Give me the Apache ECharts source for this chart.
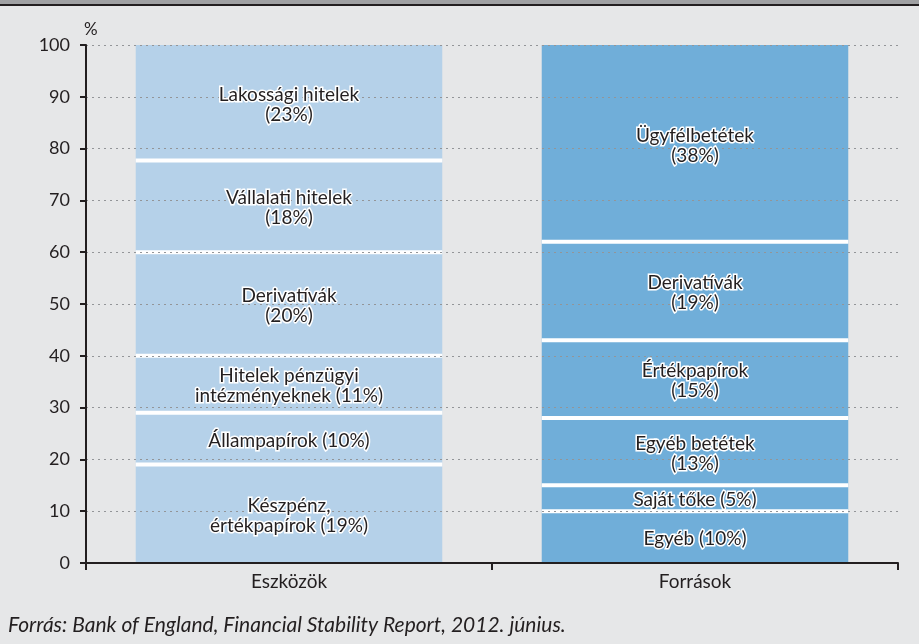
<!DOCTYPE html>
<html>
<head>
<meta charset="utf-8">
<script src="https://cdn.jsdelivr.net/npm/echarts@6/dist/echarts.min.js"></script>
<style>
  html, body { margin: 0; padding: 0; background: #e6e7e8; }
  #chart { width: 919px; height: 644px; }
</style>
</head>
<body>
<div id="chart"></div>
<script>
// adatok (alulról felfelé)
var categories = ['Eszközök', 'Források'];
var assetValues = [19, 10, 11, 20, 17.7, 22.3];
var assetLabels = ['Készpénz,\nértékpapírok (19%)', 'Állampapírok (10%)', 'Hitelek pénzügyi\nintézményeknek (11%)',
    'Derivatívák\n(20%)', 'Vállalati hitelek\n(18%)', 'Lakossági hitelek\n(23%)'];
var liabilityValues = [10, 5, 13, 15, 19, 38];
var liabilityLabels = ['Egyéb (10%)', 'Saját tőke (5%)', 'Egyéb betétek\n(13%)',
    'Értékpapírok\n(15%)', 'Derivatívák\n(19%)', 'Ügyfélbetétek\n(38%)'];
var yMin = 0, yMax = 100, yStep = 10;

var colors = ['#b5d1e9', '#70aed9'];
var font = 'Lato, "Noto Sans", sans-serif';
var textColor = '#231f20';

var myChart = echarts.init(document.getElementById('chart'));

// egy sorozat szintenként, mindkét oszlopban
var stacks = [assetValues, liabilityValues];
var labelSets = [assetLabels, liabilityLabels];
var series = [];
for (var i = 0; i < assetValues.length; i++) {
    series.push({
        type: 'bar',
        stack: 'total',
        barWidth: '75.5%',
        z: 1,
        silent: true,
        data: [
            { value: assetValues[i], itemStyle: { color: colors[0] } },
            { value: liabilityValues[i], itemStyle: { color: colors[1] } }
        ]
    });
}

// határvonalak és feliratok helye
var separators = [];
var labelItems = [];
stacks.forEach(function (vals, c) {
    var sum = 0;
    vals.forEach(function (v, k) {
        labelItems.push({ value: [c, sum + v / 2], text: labelSets[c][k] });
        sum += v;
        if (k < vals.length - 1) separators.push([c, sum]);
    });
});

series.push({
    type: 'custom',
    z: 3,
    silent: true,
    data: separators,
    renderItem: function (params, api) {
        var p = api.coord([api.value(0), api.value(1)]);
        var w = api.size([1, 0])[0] * 0.755;
        return {
            type: 'rect',
            shape: { x: p[0] - w / 2, y: p[1] - 2, width: w, height: 4 },
            style: { fill: '#ffffff' }
        };
    }
});

series.push({
    type: 'custom',
    z: 10,
    silent: true,
    data: labelItems.map(function (d) { return d.value; }),
    renderItem: function (params, api) {
        var p = api.coord([api.value(0), api.value(1)]);
        return {
            type: 'text',
            style: {
                text: labelItems[params.dataIndex].text,
                x: p[0],
                y: p[1] + 2,
                align: 'center',
                verticalAlign: 'middle',
                font: '19px ' + font,
                lineHeight: 20,
                fill: textColor,
                stroke: '#ffffff',
                lineWidth: 3
            }
        };
    }
});

var option = {
    backgroundColor: '#e6e7e8',
    animation: false,
    grid: { left: 86, right: 21, top: 45, bottom: 81 },
    xAxis: {
        type: 'category',
        data: categories,
        z: 5,
        axisLine: { lineStyle: { color: textColor, width: 2 } },
        axisTick: { show: true, length: 7, lineStyle: { color: textColor, width: 2 } },
        axisLabel: { color: textColor, fontFamily: font, fontSize: 19, margin: 9 }
    },
    yAxis: {
        type: 'value',
        min: yMin,
        max: yMax,
        interval: yStep,
        z: 5,
        name: '%',
        nameLocation: 'end',
        nameGap: 7,
        nameTextStyle: { color: textColor, fontFamily: font, fontSize: 17, align: 'left', verticalAlign: 'bottom', padding: [0, 0, 0, -2] },
        axisLine: { show: true, lineStyle: { color: textColor, width: 2 } },
        axisTick: { show: true, length: 6, lineStyle: { color: textColor, width: 2 } },
        axisLabel: { color: textColor, fontFamily: font, fontSize: 18, margin: 16 },
        splitLine: { lineStyle: { color: '#939598', type: [2, 4], width: 1 } }
    },
    graphic: [
        { type: 'rect', shape: { x: 0, y: 0, width: 919, height: 4 }, style: { fill: '#a0a1a3' } },
        { type: 'rect', shape: { x: 0, y: 4, width: 919, height: 2 }, style: { fill: '#231f20' } },
        {
            type: 'text', left: 8, top: 615,
            style: {
                text: 'Forrás: Bank of England, Financial Stability Report, 2012. június.',
                font: 'italic 21px ' + font,
                fill: textColor
            }
        }
    ],
    series: series
};

myChart.setOption(option);
</script>
</body>
</html>
